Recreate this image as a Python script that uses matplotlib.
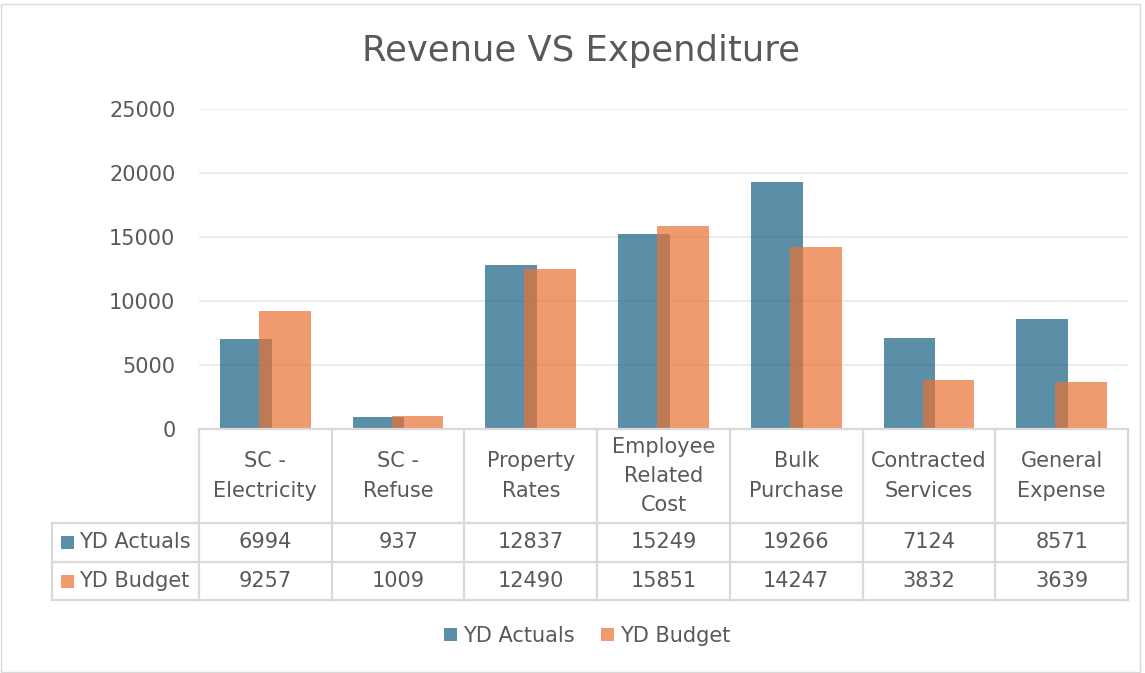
import numpy as np
import matplotlib.pyplot as plt
from matplotlib.patches import Rectangle, Patch
from matplotlib.lines import Line2D
from matplotlib.transforms import blended_transform_factory

plt.rcParams['font.family'] = ['DejaVu Sans']

categories = ['SC -\nElectricity', 'SC -\nRefuse', 'Property\nRates', 'Employee\nRelated\nCost',
              'Bulk\nPurchase', 'Contracted\nServices', 'General\nExpense']
actuals = [6994, 937, 12837, 15249, 19266, 7124, 8571]
budget = [9257, 1009, 12490, 15851, 14247, 3832, 3639]
series = ['YD Actuals', 'YD Budget']
yticks = [0, 5000, 10000, 15000, 20000, 25000]

c_blue = '#156082'
c_orange = '#E97132'
alpha = 0.7
txt = '#595959'
grid = '#EBEBEB'
tbl = '#D9D9D9'
fs = 15

W, H = 1145, 673
fig = plt.figure(figsize=(W / 100, H / 100), dpi=100)
ax = fig.add_axes([199 / W, 1 - 429 / H, (1128 - 199) / W, (429 - 109) / H])

x = np.arange(len(categories))
bw = 0.39
off = 0.147
ax.bar(x - off, actuals, bw, color=c_blue, alpha=alpha, zorder=2)
ax.bar(x + off, budget, bw, color=c_orange, alpha=alpha, zorder=3)

ax.set_xlim(-0.5, len(categories) - 0.5)
ax.set_ylim(0, 25000)
ax.set_yticks(yticks)
ax.set_yticklabels([str(v) for v in yticks], fontsize=fs, color=txt)
ax.set_xticks([])
ax.tick_params(axis='y', length=0, pad=17)
ax.grid(axis='y', color=grid, linewidth=1.3, zorder=0)
for s in ax.spines.values():
    s.set_visible(False)

fig.text(0.507, 1 - 51 / H, 'Revenue VS Expenditure', ha='center', va='center',
         fontsize=25.5, color=txt)

# data table under the axis
tr = blended_transform_factory(ax.transData, fig.transFigure)
y0, y1, y2, y3 = [1 - v / H for v in (429, 523, 562, 600)]
xl = -0.5 - (199 - 52) / 133.0
xr = len(categories) - 0.5
lw = 1.6
def hline(xa, xb, yy):
    fig.add_artist(Line2D([xa, xb], [yy, yy], transform=tr, color=tbl, lw=lw))
def vline(xx, ya, yb):
    fig.add_artist(Line2D([xx, xx], [ya, yb], transform=tr, color=tbl, lw=lw))

hline(-0.5, xr, y0)
hline(xl, xr, y1)
hline(xl, xr, y2)
hline(xl, xr, y3)
for i in range(len(categories) + 1):
    vline(i - 0.5, y0, y3)
vline(xl, y1, y3)

for i, cat in enumerate(categories):
    fig.text(i, (y0 + y1) / 2, cat, transform=tr, ha='center', va='center',
             fontsize=fs, color=txt, linespacing=1.58)
    fig.text(i, (y1 + y2) / 2, str(actuals[i]), transform=tr, ha='center', va='center',
             fontsize=fs, color=txt)
    fig.text(i, (y2 + y3) / 2, str(budget[i]), transform=tr, ha='center', va='center',
             fontsize=fs, color=txt)

sq = 13
for name, col, (ya, yb) in zip(series, [c_blue, c_orange], [(y1, y2), (y2, y3)]):
    yc = (ya + yb) / 2
    fig.add_artist(Rectangle((61 / W, yc - sq / 2 / H), sq / W, sq / H, transform=fig.transFigure,
                             color=col, alpha=alpha, lw=0))
    fig.text(79 / W, yc, name, ha='left', va='center', fontsize=fs, color=txt)

handles = [Patch(facecolor=c_blue, alpha=alpha, lw=0), Patch(facecolor=c_orange, alpha=alpha, lw=0)]
fig.legend(handles, series, loc='center', bbox_to_anchor=(0.513, 1 - 636 / H), ncol=2,
           frameon=False, fontsize=fs, labelcolor=txt, handlelength=0.63, handleheight=0.63,
           handletextpad=0.3, columnspacing=1.25)

fig.add_artist(Rectangle((1 / W, 1 / H), (W - 6) / W, (H - 5) / H, transform=fig.transFigure,
                         fill=False, edgecolor='#D9D9D9', lw=1))

plt.savefig('out.png', dpi=100)
